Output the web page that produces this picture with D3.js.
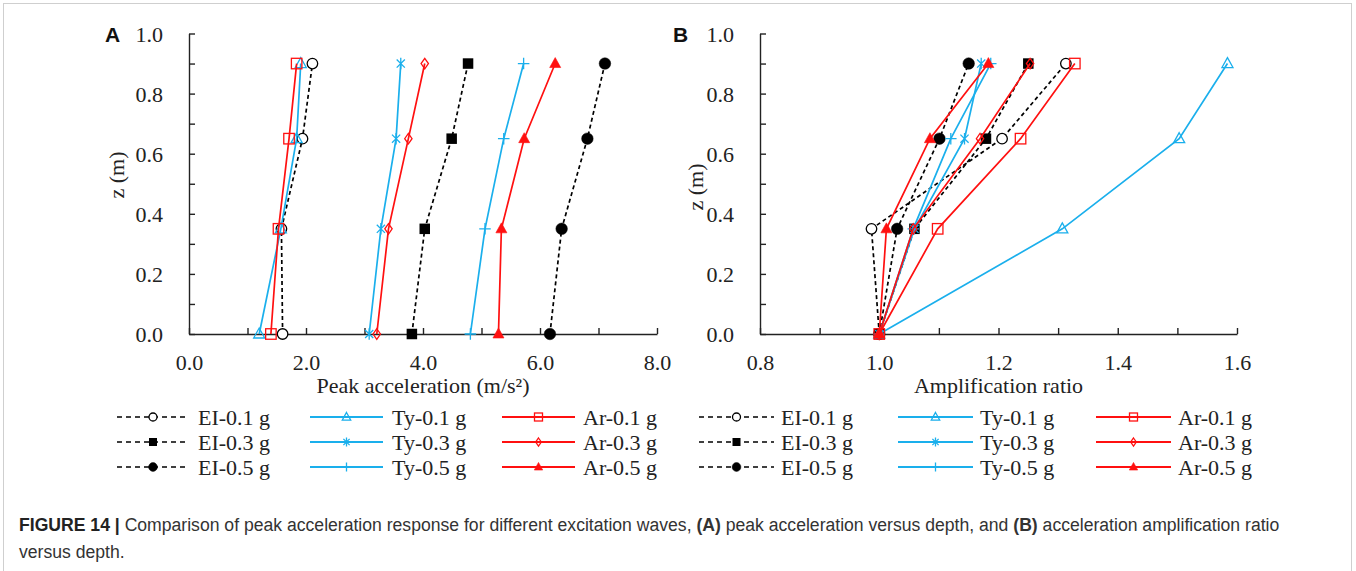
<!DOCTYPE html>
<html>
<head>
<meta charset="utf-8">
<script src="https://cdn.jsdelivr.net/npm/d3@7"></script>
<style>
  html, body { margin: 0; padding: 0; background: #fff; }
  svg { display: block; }
  .tick text { font-family: "Liberation Serif", "Times New Roman", serif; font-size: 22px; fill: #222; }
</style>
</head>
<body>
<svg id="fig" width="1356" height="571"></svg>
<script>
// Depths at which the accelerometers sit (m)
const depths = [0, 0.35, 0.65, 0.9];

// Series names and legend labels
const seriesKeys = ["EI-0.1", "EI-0.3", "EI-0.5", "Ty-0.1", "Ty-0.3", "Ty-0.5", "Ar-0.1", "Ar-0.3", "Ar-0.5"];
const legendLabels = ["EI-0.1 g", "EI-0.3 g", "EI-0.5 g", "Ty-0.1 g", "Ty-0.3 g", "Ty-0.5 g", "Ar-0.1 g", "Ar-0.3 g", "Ar-0.5 g"];

// (A) peak acceleration (m/s²), ordered by depths above
const peakEI01 = [1.60, 1.58, 1.94, 2.11];
const peakEI03 = [3.81, 4.03, 4.49, 4.77];
const peakEI05 = [6.17, 6.37, 6.81, 7.11];
const peakTy01 = [1.20, 1.57, 1.84, 1.91];
const peakTy03 = [3.08, 3.28, 3.54, 3.62];
const peakTy05 = [4.81, 5.06, 5.38, 5.72];
const peakAr01 = [1.40, 1.53, 1.71, 1.84];
const peakAr03 = [3.21, 3.41, 3.75, 4.03];
const peakAr05 = [5.29, 5.34, 5.73, 6.26];

// (B) amplification ratio, ordered by depths above
const ampEI01 = [1.00, 0.987, 1.206, 1.313];
const ampEI03 = [1.00, 1.059, 1.179, 1.250];
const ampEI05 = [1.00, 1.030, 1.101, 1.150];
const ampTy01 = [1.00, 1.307, 1.503, 1.584];
const ampTy03 = [1.00, 1.059, 1.143, 1.171];
const ampTy05 = [1.00, 1.057, 1.120, 1.187];
const ampAr01 = [1.00, 1.098, 1.237, 1.328];
const ampAr03 = [1.00, 1.057, 1.169, 1.253];
const ampAr05 = [1.00, 1.012, 1.085, 1.183];

// Axis ticks
const xTicksA = [0, 1, 2, 3, 4, 5, 6, 7, 8];
const xTicksB = [0.8, 0.9, 1.0, 1.1, 1.2, 1.3, 1.4, 1.5, 1.6];
const yTicks = [0, 0.1, 0.2, 0.3, 0.4, 0.5, 0.6, 0.7, 0.8, 0.9, 1.0];

const peakValues = [peakEI01, peakEI03, peakEI05, peakTy01, peakTy03, peakTy05, peakAr01, peakAr03, peakAr05];
const ampValues = [ampEI01, ampEI03, ampEI05, ampTy01, ampTy03, ampTy05, ampAr01, ampAr03, ampAr05];

// Visual style per series
const BLUE = "#1AAFEC", RED = "#FF1010", BLACK = "#000";
const styles = {
  "EI-0.1": { color: BLACK, dash: "4,3", marker: "circleOpen" },
  "EI-0.3": { color: BLACK, dash: "4,3", marker: "squareFilled" },
  "EI-0.5": { color: BLACK, dash: "4,3", marker: "circleFilled" },
  "Ty-0.1": { color: BLUE, dash: null, marker: "triangleOpen" },
  "Ty-0.3": { color: BLUE, dash: null, marker: "asterisk" },
  "Ty-0.5": { color: BLUE, dash: null, marker: "plus" },
  "Ar-0.1": { color: RED, dash: null, marker: "squareOpen" },
  "Ar-0.3": { color: RED, dash: null, marker: "diamondOpen" },
  "Ar-0.5": { color: RED, dash: null, marker: "triangleFilled" }
};

const svg = d3.select("#fig");
const SERIF = "'Liberation Serif', 'Times New Roman', serif";
const SANS = "'Liberation Sans', Arial, sans-serif";

// Outer figure frame
svg.append("rect")
  .attr("x", 3.5).attr("y", 3.5).attr("width", 1348).attr("height", 620)
  .attr("fill", "none").attr("stroke", "#cfcfcf").attr("stroke-width", 1);

// Marker painter: draws a symbol of the given type centred at (cx, cy)
function drawMarker(g, type, cx, cy, s, color) {
  const t = `translate(${cx},${cy})`;
  const sw = 1.3;
  switch (type) {
    case "circleOpen":
      g.append("circle").attr("cx", cx).attr("cy", cy).attr("r", s * 0.5)
        .attr("fill", "#fff").attr("stroke", color).attr("stroke-width", sw);
      break;
    case "circleFilled":
      g.append("circle").attr("cx", cx).attr("cy", cy).attr("r", s * 0.55)
        .attr("fill", color).attr("stroke", color).attr("stroke-width", 0.5);
      break;
    case "squareFilled":
      g.append("rect").attr("x", cx - s * 0.5).attr("y", cy - s * 0.5).attr("width", s).attr("height", s)
        .attr("fill", color);
      break;
    case "squareOpen":
      g.append("rect").attr("x", cx - s * 0.5).attr("y", cy - s * 0.5).attr("width", s).attr("height", s)
        .attr("fill", "none").attr("stroke", color).attr("stroke-width", sw);
      break;
    case "triangleOpen":
    case "triangleFilled": {
      const h = s * 0.95, w = s * 1.05;
      const p = `M0,${-h * 0.6}L${w / 2},${h * 0.4}L${-w / 2},${h * 0.4}Z`;
      g.append("path").attr("d", p).attr("transform", t)
        .attr("fill", type === "triangleFilled" ? color : "none")
        .attr("stroke", color).attr("stroke-width", type === "triangleFilled" ? 0.6 : sw);
      break;
    }
    case "diamondOpen": {
      const w = s * 0.35, h = s * 0.5;
      g.append("path").attr("d", `M0,${-h}L${w},0L0,${h}L${-w},0Z`).attr("transform", t)
        .attr("fill", "none").attr("stroke", color).attr("stroke-width", sw);
      break;
    }
    case "asterisk": {
      const r = s * 0.55;
      const a = r * Math.cos(Math.PI / 4);
      g.append("path").attr("d", `M${-a},${-a}L${a},${a}M${-a},${a}L${a},${-a}M0,${-r}L0,${r}`)
        .attr("transform", t).attr("fill", "none").attr("stroke", color).attr("stroke-width", sw);
      break;
    }
    case "plus": {
      const r = s * 0.55;
      g.append("path").attr("d", `M${-r},0L${r},0M0,${-r}L0,${r}`)
        .attr("transform", t).attr("fill", "none").attr("stroke", color).attr("stroke-width", sw);
      break;
    }
  }
}

// One panel: axes, series lines, markers, legend
function drawPanel(opt) {
  const x = d3.scaleLinear().domain(opt.xDomain).range([opt.x0, opt.x1]);
  const y = d3.scaleLinear().domain([0, 1]).range([334, 33.5]);
  const g = svg.append("g");

  // x axis
  const xAxis = d3.axisBottom(x).tickValues(opt.xTicks).tickSizeInner(-6).tickSizeOuter(0)
    .tickFormat(d => opt.xLabelled(d) ? d3.format(".1f")(d) : "");
  const gx = g.append("g").attr("transform", "translate(0,334)").call(xAxis);
  gx.selectAll("text").attr("y", 36).attr("dy", 0);

  // y axis
  const yAxis = d3.axisLeft(y).tickValues(yTicks).tickSizeInner(-6).tickSizeOuter(0)
    .tickFormat(d => Math.round(d * 10) % 2 === 0 ? d3.format(".1f")(d) : "");
  const gy = g.append("g").attr("transform", `translate(${opt.x0},0)`).call(yAxis);
  gy.selectAll("text").attr("x", -26).attr("dy", "0.36em");

  g.selectAll(".domain, .tick line").attr("stroke", "#222").attr("stroke-width", 1.4);

  // axis titles
  g.append("text").attr("x", (opt.x0 + opt.x1) / 2).attr("y", 393)
    .attr("text-anchor", "middle").attr("font-family", SERIF).attr("font-size", 22).attr("fill", "#222")
    .text(opt.xTitle);
  g.append("text").attr("transform", `translate(${opt.zLabelX},${opt.zLabelY}) rotate(-90)`)
    .attr("text-anchor", "middle").attr("dy", "0.35em")
    .attr("font-family", SERIF).attr("font-size", 22).attr("fill", "#222")
    .text("z (m)");

  // panel letter
  g.append("text").attr("x", opt.letterX).attr("y", 42)
    .attr("font-family", SANS).attr("font-weight", "bold").attr("font-size", 21).attr("fill", "#111")
    .text(opt.letter);

  // series
  const line = d3.line().x(d => x(d.v)).y(d => y(d.z));
  seriesKeys.forEach((k, i) => {
    const st = styles[k];
    const pts = depths.map((z, j) => ({ z, v: opt.values[i][j] }));
    g.append("path").datum(pts).attr("d", line)
      .attr("fill", "none").attr("stroke", st.color).attr("stroke-width", 1.7)
      .attr("stroke-dasharray", st.dash);
    pts.forEach(p => drawMarker(g, st.marker, x(p.v), y(p.z), 10.5, st.color));
  });

  // legend: three columns (EI / Ty / Ar), three rows (0.1 / 0.3 / 0.5 g)
  const rowsY = [417, 442, 467];
  seriesKeys.forEach((k, i) => {
    const col = Math.floor(i / 3), row = i % 3;
    const c = opt.legendCols[col];
    const st = styles[k];
    const yy = rowsY[row];
    g.append("line").attr("x1", c.x0).attr("x2", c.x1).attr("y1", yy).attr("y2", yy)
      .attr("stroke", st.color).attr("stroke-width", st.dash ? 1.6 : 2.2)
      .attr("stroke-dasharray", st.dash ? "5,4" : null);
    drawMarker(g, st.marker, (c.x0 + c.x1) / 2, yy, 8, st.color);
    g.append("text").attr("x", c.tx).attr("y", yy).attr("dy", "0.35em")
      .attr("font-family", SERIF).attr("font-size", 22).attr("fill", "#222")
      .text(legendLabels[i]);
  });
}

drawPanel({
  letter: "A", letterX: 105,
  xDomain: [0, 8], x0: 189, x1: 657, xTicks: xTicksA,
  xLabelled: d => Math.round(d) % 2 === 0,
  xTitle: "Peak acceleration (m/s²)",
  zLabelX: 116, zLabelY: 175,
  values: peakValues,
  legendCols: [{ x0: 117, x1: 189, tx: 198 }, { x0: 310, x1: 383, tx: 392 }, { x0: 502, x1: 575, tx: 583 }]
});

drawPanel({
  letter: "B", letterX: 673,
  xDomain: [0.8, 1.6], x0: 760, x1: 1237, xTicks: xTicksB,
  xLabelled: d => Math.round(d * 10) % 2 === 0,
  xTitle: "Amplification ratio",
  zLabelX: 695, zLabelY: 187,
  values: ampValues,
  legendCols: [{ x0: 699, x1: 774, tx: 781 }, { x0: 898, x1: 973, tx: 980 }, { x0: 1096, x1: 1171, tx: 1178 }]
});

// Caption
const cap = svg.append("text").attr("x", 19).attr("y", 531)
  .attr("font-family", SANS).attr("font-size", 17.6).attr("fill", "#333");
cap.append("tspan").attr("font-weight", "bold").attr("fill", "#222").text("FIGURE 14 | ");
cap.append("tspan").text("Comparison of peak acceleration response for different excitation waves, ");
cap.append("tspan").attr("font-weight", "bold").text("(A)");
cap.append("tspan").text(" peak acceleration versus depth, and ");
cap.append("tspan").attr("font-weight", "bold").text("(B)");
cap.append("tspan").text(" acceleration amplification ratio");
svg.append("text").attr("x", 19).attr("y", 558)
  .attr("font-family", SANS).attr("font-size", 17.6).attr("fill", "#333")
  .text("versus depth.");
</script>
</body>
</html>
